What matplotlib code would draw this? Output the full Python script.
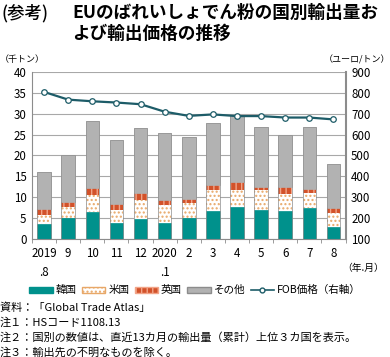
import matplotlib
matplotlib.use("Agg")
import matplotlib.pyplot as plt
from matplotlib.patches import Patch
from matplotlib.lines import Line2D
import numpy as np

plt.rcParams['font.family'] = ['Noto Sans CJK JP', 'DejaVu Sans']

labels = ["2019\n.8", "9", "10", "11", "12", "2020\n.1", "2", "3", "4", "5", "6", "7", "8"]
korea = [3.5, 4.9, 6.4, 3.7, 4.7, 3.9, 4.9, 6.6, 7.6, 6.9, 6.6, 7.3, 2.8]
usa = [2.1, 2.7, 4.2, 3.2, 4.7, 4.1, 3.7, 5.0, 4.2, 4.7, 4.2, 3.6, 3.3]
uk = [1.5, 1.3, 1.6, 1.5, 1.6, 1.4, 1.0, 1.2, 1.9, 0.9, 1.7, 1.1, 1.2]
total = [16.0, 20.0, 28.2, 23.8, 26.5, 25.5, 24.5, 27.8, 29.7, 26.8, 25.0, 26.8, 18.0]
fob = [805, 768, 760, 754, 746, 710, 690, 697, 689, 689, 682, 682, 673]

others = [t - k - u - b for t, k, u, b in zip(total, korea, usa, uk)]

c_kor = '#00918C'
c_uk = '#D2522A'
c_oth = '#B2B2B2'
c_line = '#1D5C68'
edge = '#8C8C8C'

fig = plt.figure(figsize=(3.9, 3.57), dpi=100)
ax = fig.add_axes([0.082, 0.331, 0.804, 0.467])
x = np.arange(len(labels))
w = 0.56

b1 = np.array(korea)
b2 = b1 + np.array(usa)
b3 = b2 + np.array(uk)

ax.bar(x, korea, w, color=c_kor, edgecolor=c_kor, linewidth=0.5, zorder=2)
ax.bar(x, usa, w, bottom=b1, color='white', edgecolor='#E8A868', hatch='....', linewidth=0, zorder=2)
ax.bar(x, uk, w, bottom=b2, color=c_uk, edgecolor='#F2A488', hatch='|||', linewidth=0, zorder=2)
ax.bar(x, others, w, bottom=b3, color=c_oth, edgecolor=c_oth, linewidth=0.5, zorder=2)
ax.bar(x, total, w, fill=False, edgecolor=edge, linewidth=0.5, zorder=3)

ax.set_ylim(0, 40)
ax.set_yticks(range(0, 41, 5))
ax.set_xlim(-0.5, len(labels) - 0.5)
ax.set_xticks(x)
ax.set_xticklabels(labels, fontsize=8.3, linespacing=1.6)
ax.set_xticks(np.arange(-0.5, len(labels), 1), minor=True)
ax.tick_params(axis='x', which='major', length=0, pad=6)
ax.tick_params(axis='x', which='minor', length=3, color=edge)
ax.tick_params(axis='y', length=0, labelsize=8.3, pad=4)
ax.grid(axis='y', color='#A8A8A8', linewidth=0.8, zorder=0)
ax.set_axisbelow(True)
for s in ['top', 'right']:
    ax.spines[s].set_visible(False)
for s in ['left', 'bottom']:
    ax.spines[s].set_color(edge)

ax2 = ax.twinx()
ax2.plot(x, fob, color=c_line, linewidth=1.6, marker='o', markersize=4,
         markerfacecolor='white', markeredgecolor=c_line, markeredgewidth=0.9, zorder=5)
ax2.set_ylim(100, 900)
ax2.set_yticks(range(100, 901, 100))
ax2.tick_params(axis='y', length=0, labelsize=8.3, pad=4)
ax2.spines['top'].set_visible(False)
ax2.spines['left'].set_visible(False)
ax2.spines['bottom'].set_visible(False)
ax2.spines['right'].set_color(edge)
ax2.spines['right'].set_linewidth(1.5)

fig.text(0.005, 0.963, "(参考)", fontsize=12.5, fontweight='medium', va='center')
fig.text(0.185, 0.963, "EUのばれいしょでん粉の国別輸出量お", fontsize=12.7, fontweight='bold', va='center')
fig.text(0.185, 0.905, "よび輸出価格の推移", fontsize=12.7, fontweight='bold', va='center')
fig.text(0.0, 0.832, "（千トン）", fontsize=6.5, va='center')
fig.text(1.0, 0.832, "（ユーロ/トン）", fontsize=6.5, va='center', ha='right')
fig.text(0.985, 0.25, "（年.月）", fontsize=7, va='center', ha='right')

handles = [
    Patch(facecolor=c_kor, edgecolor=c_kor),
    Patch(facecolor='white', edgecolor='#E8A868', hatch='....'),
    Patch(facecolor=c_uk, edgecolor='#F2A488', hatch='|||'),
    Patch(facecolor=c_oth, edgecolor=edge),
    Line2D([], [], color=c_line, marker='o', markersize=3.5, markerfacecolor='white',
           markeredgecolor=c_line, linewidth=1.2),
]
names = ["韓国", "米国", "英国", "その他", "FOB価格（右軸）"]
fig.legend(handles, names, loc='center', bbox_to_anchor=(0.5, 0.187), ncol=5, frameon=False,
           fontsize=7.6, handlelength=2.2, handleheight=0.5, handletextpad=0.3, columnspacing=0.5)

notes = ["資料：「Global Trade Atlas」",
         "注１：HSコード1108.13",
         "注２：国別の数値は、直近13カ月の輸出量（累計）上位３カ国を表示。",
         "注３：輸出先の不明なものを除く。"]
for i, t in enumerate(notes):
    fig.text(0.0, 0.137 - i * 0.041, t, fontsize=8, va='center')

fig.savefig("out.png", dpi=100)
